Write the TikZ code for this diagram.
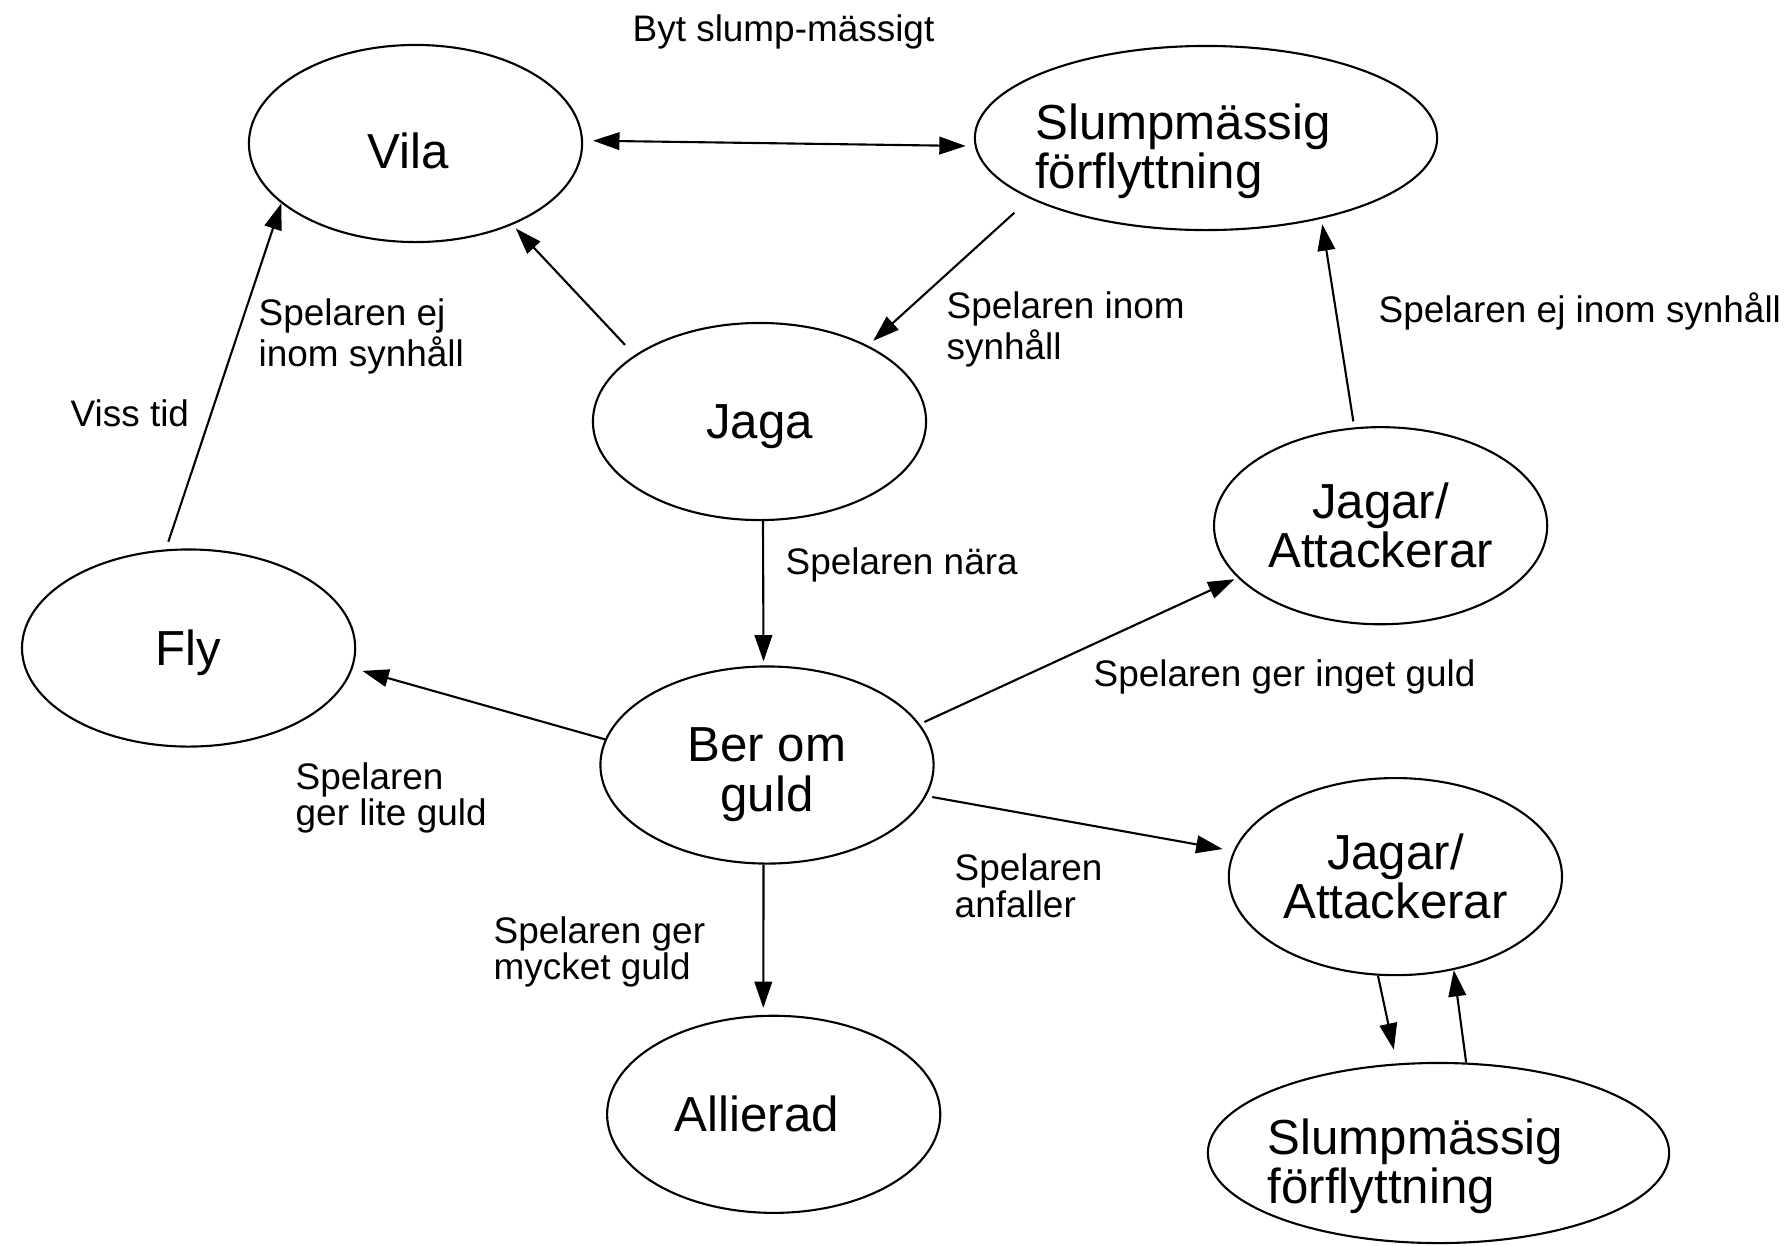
\documentclass[tikz,border=0pt]{standalone}
\usepackage{fontspec}
\setmainfont{Liberation Sans}
\usetikzlibrary{arrows.meta,shapes.geometric}

\begin{document}
\begin{tikzpicture}[x=0.01cm,y=-0.01cm,
    >={Triangle[length=7.5pt,width=5pt]},
    bigtxt/.style={font=\fontsize{14}{14}\selectfont},
    state/.style={draw,ellipse,line width=0.6pt,inner sep=0pt,align=center,
      minimum width=3.33cm,minimum height=1.97cm,bigtxt},
    widestate/.style={state,minimum width=4.62cm,minimum height=1.84cm},
    lbl/.style={anchor=west,align=left,inner sep=0pt,
      font=\fontsize{10.5}{10.45}\selectfont},
    arr/.style={->,line width=0.6pt}]
  \useasboundingbox (0,0) rectangle (1792,1245);
  % states
  \node[state,text height=14pt,text depth=0pt] (vila) at (415.5,143.5) {Vila\hspace{0.14cm}};
  \node[widestate] (slumptop) at (1206,138) {};
  \node[bigtxt,align=left,inner sep=0pt] (slumptoptxt) at ([shift={(-23,13)}]slumptop.center) {Slumpmässig\\förflyttning};
  \node[state,text depth=0pt] (jaga) at (759.5,421.5) {Jaga};
  \node[state] (jagartop) at (1380.6,525.7) {Jagar/\\Attackerar};
  \node[state,text depth=0pt] (fly) at (188.6,648) {Fly};
  \node[state,text height=26.2pt,text depth=0pt] (ber) at (767,765) {Ber om\\guld};
  \node[state] (jagarbot) at (1395.4,876.6) {Jagar/\\Attackerar};
  \node[state] (allierad) at (773.7,1114.3) {Allierad\hspace{0.34cm}};
  \node[widestate,minimum width=4.61cm,minimum height=1.8cm] (slumpbot) at (1438.5,1153) {};
  \node[bigtxt,align=left,inner sep=0pt] (slumpbottxt) at ([shift={(-23,13)}]slumpbot.center) {Slumpmässig\\förflyttning};

  % transitions
  \draw[arr,<->,shorten <=0.10cm,shorten >=0.09cm] (vila.1) -- (slumptop.182);
  \draw[arr,shorten <=0.14cm,shorten >=0.05cm] (jaga.152) -- (vila.-40);
  \draw[arr,shorten <=0.21cm,shorten >=0.07cm] (slumptop.199) -- (jaga.35);
  \draw[arr,shorten <=0.08cm] (fly.103.5) -- (vila.204);
  \draw[arr,shorten >=0.04cm] (jaga.-88.5) -- (ber.92);
  \draw[arr,shorten >=0.10cm] (ber.171) -- (fly.-7.5);
  \draw[arr,shorten <=0.05cm,shorten >=0.035cm] (ber.15) -- (jagartop.200.5);
  \draw[arr,shorten <=0.06cm,shorten >=0.055cm] (jagartop.105.5) -- (slumptop.-35);
  \draw[arr,shorten <=0.06cm,shorten >=0.11cm] (ber.-11.5) -- (jagarbot.171.5);
  \draw[arr,shorten >=0.07cm] (ber.-92.5) -- (allierad.96);
  \draw[arr,shorten >=0.14cm] (jagarbot.-100.5) -- (slumpbot.115);
  \draw[arr] (slumpbot.73.5) -- (jagarbot.-58);

  % labels
  \node[lbl] (lbyt) at (632,32) {Byt slump-mässigt};
  \node[lbl] (linom) at (946,329) {Spelaren inom\\synhåll};
  \node[lbl] (lejinom) at (258,336) {Spelaren ej\\inom synhåll};
  \node[lbl] (lviss) at (70,413) {Viss tid};
  \node[lbl] (lnara) at (785,565) {Spelaren nära};
  \node[lbl] (lejsyn) at (1378,311) {Spelaren ej inom synhåll};
  \node[lbl] (linget) at (1093,677) {Spelaren ger inget guld};
  \node[lbl] (llite) at (295,798) {Spelaren\\ger lite guld};
  \node[lbl] (lanfall) at (954,886) {Spelaren\\anfaller};
  \node[lbl] (lmycket) at (493,952) {Spelaren ger\\mycket guld};
\end{tikzpicture}
\end{document}
